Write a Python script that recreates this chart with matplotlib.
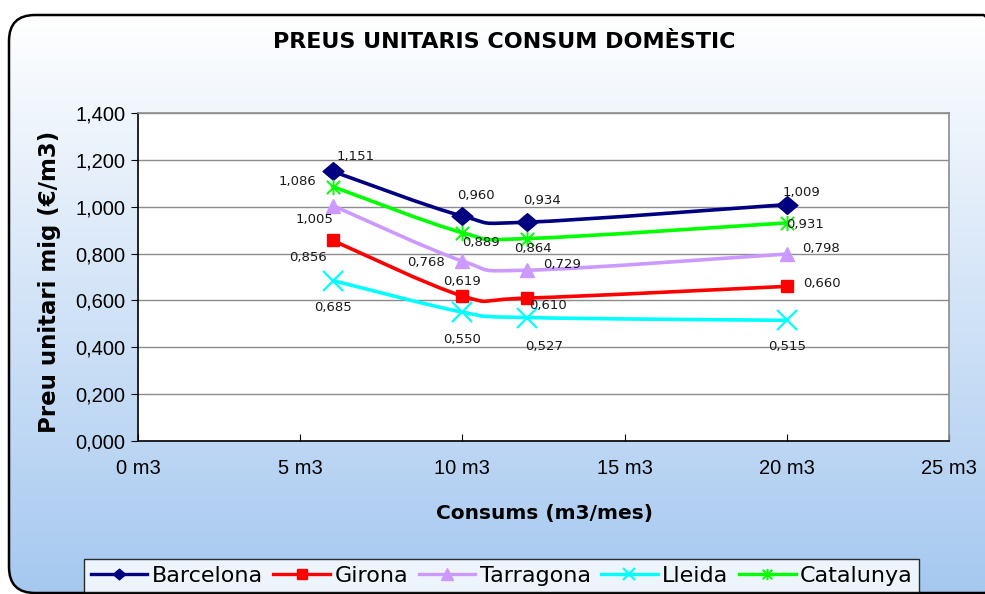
import numpy as np
import matplotlib
matplotlib.use("Agg")
import matplotlib.pyplot as plt
from matplotlib.path import Path
from matplotlib.patches import PathPatch, FancyBboxPatch
from matplotlib.lines import Line2D
from matplotlib.transforms import IdentityTransform

plt.rcParams['font.family'] = ['Liberation Sans', 'DejaVu Sans']

# ---------------- data ----------------
consums = [6, 10, 12, 20]
barcelona = [1.151, 0.960, 0.934, 1.009]
girona = [0.856, 0.619, 0.610, 0.660]
tarragona = [1.005, 0.768, 0.729, 0.798]
lleida = [0.685, 0.550, 0.527, 0.515]
catalunya = [1.086, 0.889, 0.864, 0.931]
series_names = ["Barcelona", "Girona", "Tarragona", "Lleida", "Catalunya"]

x_ticks = [0, 5, 10, 15, 20, 25]
x_tick_labels = ["0 m3", "5 m3", "10 m3", "15 m3", "20 m3", "25 m3"]
y_ticks = [0.0, 0.2, 0.4, 0.6, 0.8, 1.0, 1.2, 1.4]
y_tick_labels = ["0,000", "0,200", "0,400", "0,600", "0,800", "1,000", "1,200", "1,400"]

title = "PREUS UNITARIS CONSUM DOMÈSTIC"
x_label = "Consums (m3/mes)"
y_label = "Preu unitari mig (€/m3)"

# ---------------- styles ----------------
asterisk = Path([(-1, -1), (1, 1), (-1, 1), (1, -1), (0, -1.15), (0, 1.15)],
                [Path.MOVETO, Path.LINETO, Path.MOVETO, Path.LINETO, Path.MOVETO, Path.LINETO])
diamond = Path([(-1, 0), (0, 0.85), (1, 0), (0, -0.85), (-1, 0)],
               [Path.MOVETO, Path.LINETO, Path.LINETO, Path.LINETO, Path.CLOSEPOLY])
styles = {
    "Barcelona": dict(color="#000080", marker=diamond, ms=15, mew=1, fill=True, lms=9),
    "Girona": dict(color="#ff0000", marker="s", ms=8.5, mew=1, fill=True, lms=7),
    "Tarragona": dict(color="#cc99ff", marker="^", ms=10.5, mew=1, fill=True, lms=8),
    "Lleida": dict(color="#00ffff", marker="x", ms=15, mew=1.6, fill=False, lms=8),
    "Catalunya": dict(color="#00ff00", marker=asterisk, ms=11, mew=1.4, fill=False, lms=8),
}
# label offsets in pixels (dx, dy; dy positive = up)
label_offsets = {
    "Barcelona": [(23, 15), (14, 21), (15, 22), (15, 12)],
    "Girona": [(-25, -17), (0, 14), (21, -7), (35, 3)],
    "Tarragona": [(-18, -14), (-36, -1), (35, 6), (34, 6)],
    "Lleida": [(0, -27), (0, -27), (17, -29), (0, -26)],
    "Catalunya": [(-35, 5), (19, -10), (6, -10), (18, -2)],
}
values = dict(zip(series_names, [barcelona, girona, tarragona, lleida, catalunya]))

W, H = 985, 594
fig = plt.figure(figsize=(W / 100, H / 100), dpi=100)
fig.patch.set_facecolor("white")

# background rounded box with gradient (pixel coordinates, origin bottom-left)
bg = fig.add_axes([0, 0, 1, 1])
bg.axis("off")
grad = np.linspace(0, 1, 256)[:, None]
c_top = np.array([1.0, 1.0, 1.0])
c_bot = np.array([0.65, 0.785, 0.94])
img = c_top[None, None, :] * (1 - grad[:, :, None]) + c_bot[None, None, :] * grad[:, :, None]
im = bg.imshow(img, extent=[0, 1, 0, 1 - 15 / H], origin="upper", aspect="auto", zorder=0)
bg.set_xlim(0, 1)
bg.set_ylim(0, 1)
box_kw = dict(boxstyle="round,pad=0,rounding_size=26", transform=IdentityTransform())
clip = FancyBboxPatch((9, 1), 1000, 578, facecolor="none", edgecolor="none", **box_kw)
im.set_clip_path(clip)
box = FancyBboxPatch((9, 1), 1000, 578, facecolor="none", edgecolor="black",
                     linewidth=1.8, **box_kw)
fig.add_artist(box)

# main axes
left, right, top, bottom = 138, 949, 113, 441
ax = fig.add_axes([left / W, 1 - bottom / H, (right - left) / W, (bottom - top) / H])
ax.set_facecolor("white")
ax.set_xlim(0, 25)
ax.set_ylim(0, 1.4)
ax.set_xticks(x_ticks)
ax.set_xticklabels(x_tick_labels, fontsize=14.5)
ax.set_yticks(y_ticks)
ax.set_yticklabels(y_tick_labels, fontsize=14.5)
ax.tick_params(axis="x", direction="in", length=5, pad=13, color="black")
ax.tick_params(axis="y", direction="out", length=5, pad=4, color="black")
ax.yaxis.grid(True, color="#8c8c8c", linewidth=1)
ax.set_axisbelow(True)
for s in ["top", "right"]:
    ax.spines[s].set_color("#8c8c8c")
    ax.spines[s].set_linewidth(1.2)
for s in ["left", "bottom"]:
    ax.spines[s].set_color("black")
    ax.spines[s].set_linewidth(1.2)


def smooth_path(xs, ys):
    pts = np.column_stack([xs, ys]).astype(float)
    n = len(pts)
    verts = [pts[0]]
    codes = [Path.MOVETO]
    for i in range(n - 1):
        p0 = pts[i - 1] if i > 0 else pts[i]
        p1 = pts[i]
        p2 = pts[i + 1]
        p3 = pts[i + 2] if i + 2 < n else pts[i + 1]
        c1 = p1 + (p2 - p0) / 6.0
        c2 = p2 - (p3 - p1) / 6.0
        verts += [c1, c2, p2]
        codes += [Path.CURVE4] * 3
    return Path(verts, codes)


handles = []
for name in series_names:
    st = styles[name]
    ys = values[name]
    patch = PathPatch(smooth_path(consums, ys), facecolor="none", edgecolor=st["color"],
                      linewidth=2.6, zorder=3, capstyle="round", joinstyle="round")
    ax.add_patch(patch)
    ax.plot(consums, ys, linestyle="none", marker=st["marker"], ms=st["ms"],
            mfc=st["color"] if st["fill"] else "none", mec=st["color"], mew=st["mew"],
            zorder=4, clip_on=False)
    for (xv, yv), (dx, dy) in zip(zip(consums, ys), label_offsets[name]):
        ax.annotate(f"{yv:.3f}".replace(".", ","), (xv, yv), xytext=(dx * 0.72, dy * 0.72),
                    textcoords="offset points", ha="center", va="center", fontsize=9.5,
                    family="DejaVu Sans", color="#1a1a1a", zorder=5)
    handles.append(Line2D([], [], color=st["color"], linewidth=2.4, marker=st["marker"],
                          ms=st["lms"], mfc=st["color"] if st["fill"] else "none",
                          mec=st["color"], mew=st["mew"]))

fig.text(504 / W, 1 - 42 / H, title, ha="center", va="center", fontsize=16,
         fontweight="bold", family="DejaVu Sans")
fig.text(545 / W, 1 - 513 / H, x_label, ha="center", va="center", fontsize=14.5,
         fontweight="bold", family="DejaVu Sans")
fig.text(50 / W, 1 - 282 / H, y_label, ha="center", va="center", fontsize=16.5,
         fontweight="bold", rotation=90, family="DejaVu Sans")

leg = fig.legend(handles, series_names, loc="upper left", bbox_to_anchor=(84 / W, 1 - 559 / H),
                 ncol=5, prop={"family": "DejaVu Sans", "size": 16}, frameon=True,
                 fancybox=False, edgecolor="black",
                 handlelength=2.55, handletextpad=0.2, columnspacing=0.47, borderpad=0.3,
                 borderaxespad=0)
leg.get_frame().set_linewidth(1.0)
leg.get_frame().set_facecolor("white")

fig.savefig("out.png", dpi=100)
